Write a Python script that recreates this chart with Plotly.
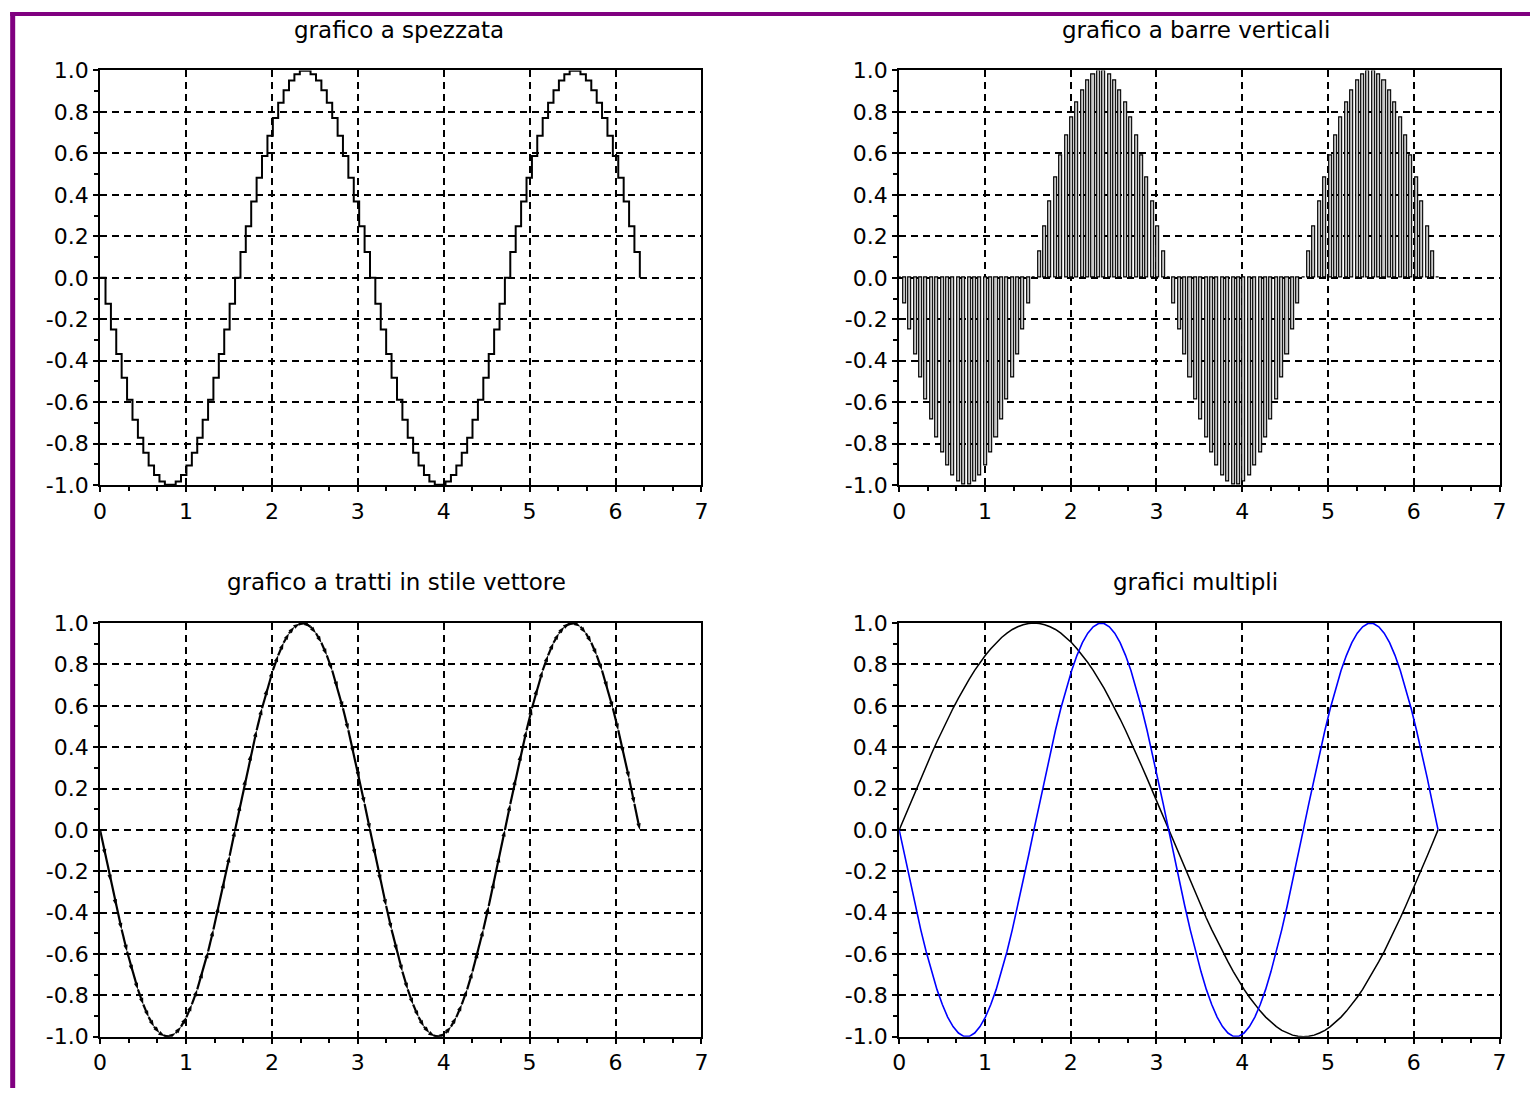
import plotly.graph_objects as go

W, H = 1537, 1101

# ---------------- data ----------------
x_vals = [0.000, 0.063, 0.126, 0.188, 0.251, 0.314, 0.377, 0.440, 0.503, 0.565,
          0.628, 0.691, 0.754, 0.817, 0.880, 0.942, 1.005, 1.068, 1.131, 1.194,
          1.257, 1.319, 1.382, 1.445, 1.508, 1.571, 1.634, 1.696, 1.759, 1.822,
          1.885, 1.948, 2.011, 2.073, 2.136, 2.199, 2.262, 2.325, 2.388, 2.450,
          2.513, 2.576, 2.639, 2.702, 2.765, 2.827, 2.890, 2.953, 3.016, 3.079,
          3.142, 3.204, 3.267, 3.330, 3.393, 3.456, 3.519, 3.581, 3.644, 3.707,
          3.770, 3.833, 3.896, 3.958, 4.021, 4.084, 4.147, 4.210, 4.273, 4.335,
          4.398, 4.461, 4.524, 4.587, 4.650, 4.712, 4.775, 4.838, 4.901, 4.964,
          5.027, 5.089, 5.152, 5.215, 5.278, 5.341, 5.404, 5.466, 5.529, 5.592,
          5.655, 5.718, 5.781, 5.843, 5.906, 5.969, 6.032, 6.095, 6.158, 6.220,
          6.283]

# fast wave (step / bars / vector / blue curve)
y_fast = [0.000, -0.125, -0.249, -0.368, -0.482, -0.588, -0.685, -0.771, -0.844, -0.905,
          -0.951, -0.982, -0.998, -0.998, -0.982, -0.951, -0.905, -0.844, -0.771, -0.685,
          -0.588, -0.482, -0.368, -0.249, -0.125, 0.000, 0.125, 0.249, 0.368, 0.482,
          0.588, 0.685, 0.771, 0.844, 0.905, 0.951, 0.982, 0.998, 0.998, 0.982,
          0.951, 0.905, 0.844, 0.771, 0.685, 0.588, 0.482, 0.368, 0.249, 0.125,
          0.000, -0.125, -0.249, -0.368, -0.482, -0.588, -0.685, -0.771, -0.844, -0.905,
          -0.951, -0.982, -0.998, -0.998, -0.982, -0.951, -0.905, -0.844, -0.771, -0.685,
          -0.588, -0.482, -0.368, -0.249, -0.125, 0.000, 0.125, 0.249, 0.368, 0.482,
          0.588, 0.685, 0.771, 0.844, 0.905, 0.951, 0.982, 0.998, 0.998, 0.982,
          0.951, 0.905, 0.844, 0.771, 0.685, 0.588, 0.482, 0.368, 0.249, 0.125,
          0.000]

# slow wave (black curve in "grafici multipli")
y_slow = [0.000, 0.063, 0.125, 0.187, 0.249, 0.309, 0.368, 0.426, 0.482, 0.536,
          0.588, 0.637, 0.685, 0.729, 0.771, 0.809, 0.844, 0.876, 0.905, 0.930,
          0.951, 0.969, 0.982, 0.992, 0.998, 1.000, 0.998, 0.992, 0.982, 0.969,
          0.951, 0.930, 0.905, 0.876, 0.844, 0.809, 0.771, 0.729, 0.685, 0.637,
          0.588, 0.536, 0.482, 0.426, 0.368, 0.309, 0.249, 0.187, 0.125, 0.063,
          0.000, -0.063, -0.125, -0.187, -0.249, -0.309, -0.368, -0.426, -0.482, -0.536,
          -0.588, -0.637, -0.685, -0.729, -0.771, -0.809, -0.844, -0.876, -0.905, -0.930,
          -0.951, -0.969, -0.982, -0.992, -0.998, -1.000, -0.998, -0.992, -0.982, -0.969,
          -0.951, -0.930, -0.905, -0.876, -0.844, -0.809, -0.771, -0.729, -0.685, -0.637,
          -0.588, -0.536, -0.482, -0.426, -0.368, -0.309, -0.249, -0.187, -0.125, -0.063,
          0.000]

titles = ["grafico a spezzata", "grafico a barre verticali",
          "grafico a tratti in stile vettore", "grafici multipli"]
x_tickvals = [0, 1, 2, 3, 4, 5, 6, 7]
x_ticktext = ["0", "1", "2", "3", "4", "5", "6", "7"]
y_tickvals = [-1.0, -0.8, -0.6, -0.4, -0.2, 0.0, 0.2, 0.4, 0.6, 0.8, 1.0]
y_ticktext = ["-1.0", "-0.8", "-0.6", "-0.4", "-0.2", "0.0", "0.2", "0.4", "0.6", "0.8", "1.0"]

# ---------------- layout geometry ----------------
# target screen pixels (left, right, top, bottom) of each plot frame
boxes = [(99, 701, 70, 485), (899, 1500, 70, 485),
         (99, 701, 623, 1037), (899, 1500, 623, 1037)]
title_xy = [(398, 30), (1196, 30), (396, 582), (1196, 582)]

# the page is shown slightly offset/scaled; compensate
SX, OX = 0.992, 5.8
SY, OY = 0.978, 11.5


def px(p):
    return (p - OX) / SX / W


def py(p):
    return 1 - (p - OY) / SY / H


FONT = "DejaVu Sans"

fig = go.Figure()

# 1: step plot
fig.add_trace(go.Scatter(x=x_vals, y=y_fast, mode="lines", line=dict(shape="hv", color="black", width=2),
                         xaxis="x", yaxis="y", showlegend=False))
# 2: vertical bars
fig.add_trace(go.Bar(x=x_vals, y=y_fast, width=0.036,
                     marker=dict(color="#c8c8c8", line=dict(color="black", width=1.1)),
                     xaxis="x2", yaxis="y2", showlegend=False))
# 3: vector style
fig.add_trace(go.Scatter(x=x_vals, y=y_fast, mode="lines+markers",
                         line=dict(color="black", width=2.2),
                         marker=dict(symbol="arrow", size=7, angleref="previous", color="black"),
                         xaxis="x3", yaxis="y3", showlegend=False))
# 4: multiple plots
fig.add_trace(go.Scatter(x=x_vals, y=y_slow, mode="lines", line=dict(color="black", width=1.5),
                         xaxis="x4", yaxis="y4", showlegend=False))
fig.add_trace(go.Scatter(x=x_vals, y=y_fast, mode="lines", line=dict(color="#0000ff", width=1.6),
                         xaxis="x4", yaxis="y4", showlegend=False))

layout = dict(width=W, height=H, autosize=False, margin=dict(l=0, r=0, t=0, b=0),
              paper_bgcolor="white", plot_bgcolor="white", bargap=0,
              annotations=[], shapes=[])

for i, (l, r, t, b) in enumerate(boxes):
    n = "" if i == 0 else str(i + 1)
    common = dict(showgrid=True, gridcolor="black", griddash="7px,5px", gridwidth=1.6,
                  showline=True, linecolor="black", linewidth=2, mirror=True,
                  ticks="outside", ticklen=5, tickwidth=2, tickcolor="black",
                  zeroline=False, tickfont=dict(family=FONT, size=22, color="black"))
    layout["xaxis" + n] = dict(common, domain=[px(l), px(r)], anchor="y" + n, range=[0, 7],
                               tickmode="array", tickvals=x_tickvals, ticktext=x_ticktext,
                               minor=dict(tick0=0, dtick=1 / 3, ticks="outside", ticklen=4,
                                          tickwidth=1.5, tickcolor="black", showgrid=False))
    layout["yaxis" + n] = dict(common, domain=[py(b), py(t)], anchor="x" + n, range=[-1, 1],
                               tickmode="array", tickvals=y_tickvals, ticktext=y_ticktext,
                               minor=dict(tick0=0, dtick=0.1, ticks="outside", ticklen=4,
                                          tickwidth=1.5, tickcolor="black", showgrid=False))
    tx, ty = title_xy[i]
    layout["annotations"].append(dict(text=titles[i], x=px(tx), y=py(ty),
                                      xref="paper", yref="paper", showarrow=False,
                                      xanchor="center", yanchor="middle",
                                      font=dict(family=FONT, size=23, color="black")))

# purple border (left and top)
layout["shapes"].append(dict(type="line", xref="paper", yref="paper",
                             x0=px(11.5), x1=px(11.5), y0=0, y1=1,
                             line=dict(color="#800080", width=5)))
layout["shapes"].append(dict(type="line", xref="paper", yref="paper",
                             x0=px(9), x1=1, y0=1 - 2 / H, y1=1 - 2 / H,
                             line=dict(color="#800080", width=4)))

fig.update_layout(**layout)
fig.write_html("out.html")
